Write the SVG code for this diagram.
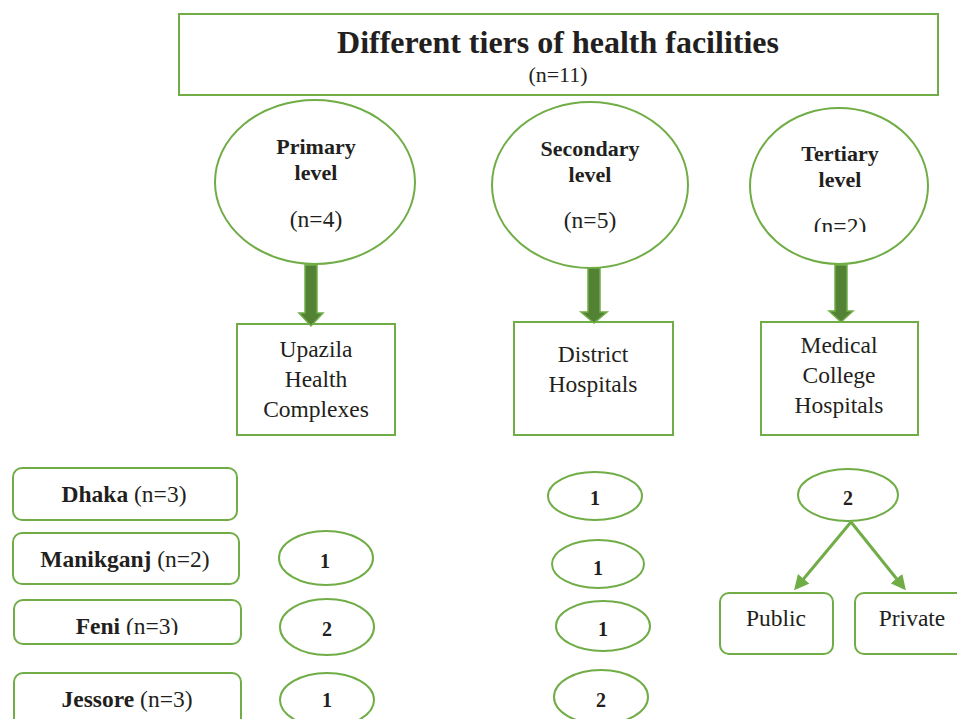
<svg xmlns="http://www.w3.org/2000/svg" width="957" height="719" viewBox="0 0 957 719">
  <style>
    .box { fill: #ffffff; stroke: #70ad47; stroke-width: 2; }
    .t { font-family: "Liberation Serif", "Times New Roman", serif; fill: #231f20; text-anchor: middle; }
    .b { font-weight: bold; }
    .lvl { font-size: 22px; font-weight: bold; }
    .n { font-size: 23.5px; }
    .lbl { font-size: 23.5px; }
    .num { font-size: 20px; font-weight: bold; }
    .reg { font-size: 23.5px; }
    .down { fill: #548235; stroke: #70ad47; stroke-width: 1.5; }
    .link { stroke: #70ad47; stroke-width: 3; fill: none; }
  </style>
  <defs>
    <marker id="head" viewBox="0 0 10 10" refX="8" refY="5" markerWidth="5" markerHeight="5" orient="auto" markerUnits="strokeWidth">
      <path d="M0,0 L10,5 L0,10 z" fill="#70ad47"/>
    </marker>
    <clipPath id="clipTertiary"><rect x="750" y="100" width="180" height="132"/></clipPath>
    <clipPath id="clipFeni"><rect x="14" y="600" width="227" height="35"/></clipPath>
  </defs>
  <rect width="957" height="719" fill="#ffffff"/>

  <!-- title -->
  <g id="title">
    <rect class="box" x="179" y="14" width="759" height="81"/>
    <text class="t b" x="558" y="53" font-size="32">Different tiers of health facilities</text>
    <text class="t" x="558" y="82" font-size="22">(n=11)</text>
  </g>

  <!-- tier ellipses -->
  <g id="primary">
    <ellipse class="box" cx="315" cy="182" rx="100" ry="82"/>
    <text class="t lvl" x="316" y="154">Primary</text>
    <text class="t lvl" x="316" y="180">level</text>
    <text class="t n" x="316" y="227">(n=4)</text>
  </g>
  <g id="secondary">
    <ellipse class="box" cx="590" cy="185" rx="98" ry="83"/>
    <text class="t lvl" x="590" y="156">Secondary</text>
    <text class="t lvl" x="590" y="182">level</text>
    <text class="t n" x="590" y="228">(n=5)</text>
  </g>
  <g id="tertiary">
    <ellipse class="box" cx="839" cy="186" rx="89" ry="78"/>
    <text class="t lvl" x="840" y="161">Tertiary</text>
    <text class="t lvl" x="840" y="187">level</text>
    <text class="t n" x="840" y="234" clip-path="url(#clipTertiary)">(n=2)</text>
  </g>

  <!-- facility boxes -->
  <g id="upazila">
    <rect class="box" x="237" y="324" width="158" height="111"/>
    <text class="t lbl" x="316" y="357">Upazila</text>
    <text class="t lbl" x="316" y="387">Health</text>
    <text class="t lbl" x="316" y="417">Complexes</text>
  </g>
  <g id="district">
    <rect class="box" x="514" y="322" width="159" height="113"/>
    <text class="t lbl" x="593" y="362">District</text>
    <text class="t lbl" x="593" y="392">Hospitals</text>
  </g>
  <g id="medical">
    <rect class="box" x="761" y="322" width="157" height="113"/>
    <text class="t lbl" x="839" y="353">Medical</text>
    <text class="t lbl" x="839" y="383">College</text>
    <text class="t lbl" x="839" y="413">Hospitals</text>
  </g>

  <!-- regions -->
  <g id="dhaka">
    <rect class="box" x="13" y="468" width="224" height="52" rx="9"/>
    <text class="t reg" x="124" y="502"><tspan class="b">Dhaka</tspan> (n=3)</text>
  </g>
  <g id="manikganj">
    <rect class="box" x="13" y="533" width="226" height="51" rx="9"/>
    <text class="t reg" x="125" y="567"><tspan class="b">Manikganj</tspan> (n=2)</text>
  </g>
  <g id="feni">
    <rect class="box" x="14" y="600" width="227" height="44" rx="9"/>
    <text class="t reg" x="127" y="634" clip-path="url(#clipFeni)"><tspan class="b">Feni</tspan> (n=3)</text>
  </g>
  <g id="jessore">
    <rect class="box" x="14" y="673" width="227" height="60" rx="9"/>
    <text class="t reg" x="127" y="707"><tspan class="b">Jessore</tspan> (n=3)</text>
  </g>

  <!-- primary counts -->
  <g id="p-manikganj">
    <ellipse class="box" cx="326" cy="558" rx="47" ry="27"/>
    <text class="t num" x="325" y="568">1</text>
  </g>
  <g id="p-feni">
    <ellipse class="box" cx="327" cy="627" rx="47" ry="28"/>
    <text class="t num" x="327" y="636">2</text>
  </g>
  <g id="p-jessore">
    <ellipse class="box" cx="327" cy="700" rx="47" ry="27"/>
    <text class="t num" x="327" y="707">1</text>
  </g>

  <!-- secondary counts -->
  <g id="s-dhaka">
    <ellipse class="box" cx="595" cy="496" rx="47" ry="24"/>
    <text class="t num" x="595" y="505">1</text>
  </g>
  <g id="s-manikganj">
    <ellipse class="box" cx="598" cy="564" rx="46" ry="24"/>
    <text class="t num" x="598" y="575">1</text>
  </g>
  <g id="s-feni">
    <ellipse class="box" cx="603" cy="626" rx="47" ry="25"/>
    <text class="t num" x="603" y="636">1</text>
  </g>
  <g id="s-jessore">
    <ellipse class="box" cx="601" cy="697" rx="47" ry="27"/>
    <text class="t num" x="601" y="707">2</text>
  </g>

  <!-- tertiary count and ownership -->
  <g id="t-dhaka">
    <ellipse class="box" cx="848" cy="495" rx="50" ry="26"/>
    <text class="t num" x="848" y="505">2</text>
  </g>
  <g id="public">
    <rect class="box" x="720" y="593" width="113" height="61" rx="9"/>
    <text class="t lbl" x="776" y="626">Public</text>
  </g>
  <g id="private">
    <rect class="box" x="855" y="593" width="120" height="61" rx="9"/>
    <text class="t lbl" x="912" y="626">Private</text>
  </g>

  <!-- connectors -->
  <g id="connectors">
    <path class="down" d="M305,265 L317,265 L317,313 L323,313 L311,326 L299,313 L305,313 Z"/>
    <path class="down" d="M588,268 L600,268 L600,312 L607,312 L594,323 L581,312 L588,312 Z"/>
    <path class="down" d="M835,265 L847,265 L847,311 L853,311 L841,322 L829,311 L835,311 Z"/>
    <line class="link" x1="851" y1="522" x2="796" y2="588" marker-end="url(#head)"/>
    <line class="link" x1="851" y1="522" x2="904" y2="588" marker-end="url(#head)"/>
  </g>
</svg>
